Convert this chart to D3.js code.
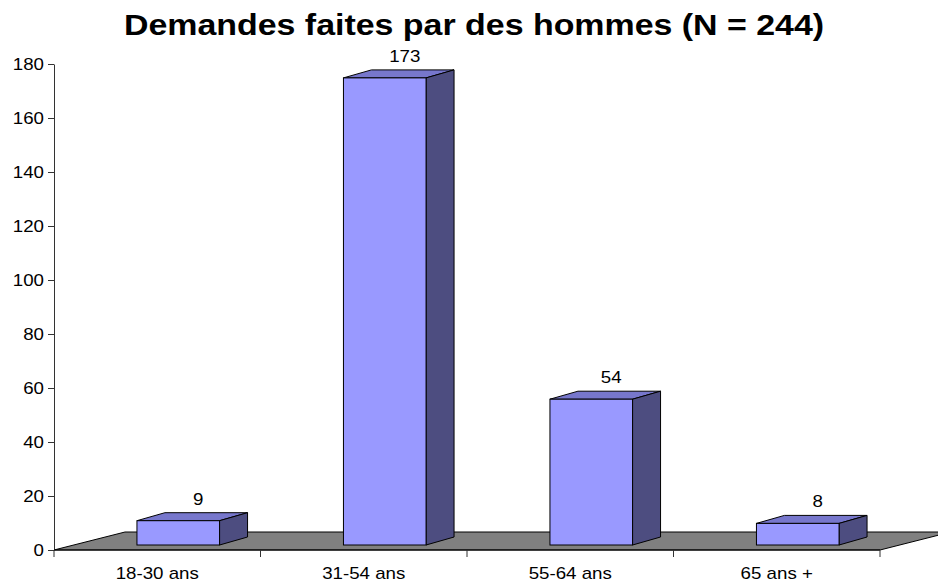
<!DOCTYPE html>
<meta charset="utf-8">
<script src="https://cdn.jsdelivr.net/npm/d3@7"></script>
<style>
  body { margin: 0; background: #fff; }
  svg { font-family: "Liberation Sans", Arial, sans-serif; }
</style>
<div id="chart"></div>
<script>
// data
var categories = ["18-30 ans", "31-54 ans", "55-64 ans", "65 ans +"];
var values = [9, 173, 54, 8];
var yTicks = [0, 20, 40, 60, 80, 100, 120, 140, 160, 180];
var title = "Demandes faites par des hommes (N = 244)";

var W = 938, H = 584;
var plotLeft = 54, plotRight = 880, plotTop = 64, floorY = 550;
var stretch = 1.17; // the source picture is a bit wider than tall

// oblique depth of the floor and of the bars
var floorDepth = { dx: 71, dy: -18 };
var barFront = { dx: 21, dy: -5 };
var barDepth = { dx: 28, dy: -8 };

var svg = d3.select("#chart").append("svg")
  .attr("width", W).attr("height", H);

var x = d3.scaleBand()
  .domain(categories)
  .range([plotLeft, plotRight])
  .paddingInner(0.6)
  .paddingOuter(0.3);

var step = x.step();

var y = d3.scaleLinear()
  .domain([0, 180])
  .range([floorY, plotTop]);

// text helper, stretched horizontally like the source
function label(parent, tx, ty, str, size, anchor, bold) {
  return parent.append("text")
    .attr("transform", "translate(" + tx + "," + ty + ") scale(" + stretch + ",1)")
    .attr("text-anchor", anchor)
    .attr("font-size", size + "px")
    .attr("font-weight", bold ? "bold" : "normal")
    .attr("fill", "#000")
    .text(str);
}

// title
label(svg, 474, 35, title, 29, "middle", true);

// floor
var fl = [
  [plotLeft, floorY], [plotRight, floorY],
  [plotRight + floorDepth.dx, floorY + floorDepth.dy],
  [plotLeft + floorDepth.dx, floorY + floorDepth.dy]
];
svg.append("polygon")
  .attr("points", fl.map(function(p) { return p.join(","); }).join(" "))
  .attr("fill", "#808080")
  .attr("stroke", "#000")
  .attr("stroke-width", 1);

// y axis
var yAxis = svg.append("g")
  .attr("transform", "translate(" + plotLeft + ",0)")
  .call(d3.axisLeft(y).tickValues(yTicks).tickSizeInner(6).tickSizeOuter(0).tickFormat(""));
yAxis.select(".domain").attr("stroke", "#333");
yAxis.selectAll(".tick line").attr("stroke", "#333");
yTicks.forEach(function(t) {
  label(svg, plotLeft - 10, y(t) + 6, t, 16, "end", false);
});

// x axis: tick marks between categories
var bounds = [plotLeft].concat(categories.map(function(c) { return x(c) - x.paddingOuter() * step + step; }));
var xg = svg.append("g");
xg.append("line")
  .attr("x1", plotLeft).attr("x2", plotRight)
  .attr("y1", floorY).attr("y2", floorY)
  .attr("stroke", "#000");
xg.selectAll("line.tk").data(bounds).enter().append("line")
  .attr("class", "tk")
  .attr("x1", function(d) { return d; }).attr("x2", function(d) { return d; })
  .attr("y1", floorY).attr("y2", floorY + 7)
  .attr("stroke", "#333");
categories.forEach(function(c) {
  label(xg, x(c) + x.bandwidth() / 2, 579, c, 16, "middle", false);
});

// bars
var bars = svg.selectAll("g.bar")
  .data(categories.map(function(c, i) { return { cat: c, v: values[i] }; }))
  .enter().append("g")
  .attr("class", "bar");

function pts(a) { return a.map(function(p) { return p.join(","); }).join(" "); }

bars.each(function(d) {
  var g = d3.select(this);
  var x0 = x(d.cat) + barFront.dx, x1 = x0 + x.bandwidth();
  var yb = y(0) + barFront.dy, yt = y(d.v) + barFront.dy;
  var ddx = barDepth.dx, ddy = barDepth.dy;
  // top
  g.append("polygon")
    .attr("points", pts([[x0, yt], [x1, yt], [x1 + ddx, yt + ddy], [x0 + ddx, yt + ddy]]))
    .attr("fill", "#7777CC").attr("stroke", "#000");
  // side
  g.append("polygon")
    .attr("points", pts([[x1, yt], [x1 + ddx, yt + ddy], [x1 + ddx, yb + ddy], [x1, yb]]))
    .attr("fill", "#4D4D80").attr("stroke", "#000");
  // front
  g.append("rect")
    .attr("x", x0).attr("y", yt)
    .attr("width", x1 - x0).attr("height", yb - yt)
    .attr("fill", "#9999FF").attr("stroke", "#000");
  // value label
  label(g, (x0 + x1) / 2 + 20, yt - 16, d.v, 16, "middle", false);
});
</script>
